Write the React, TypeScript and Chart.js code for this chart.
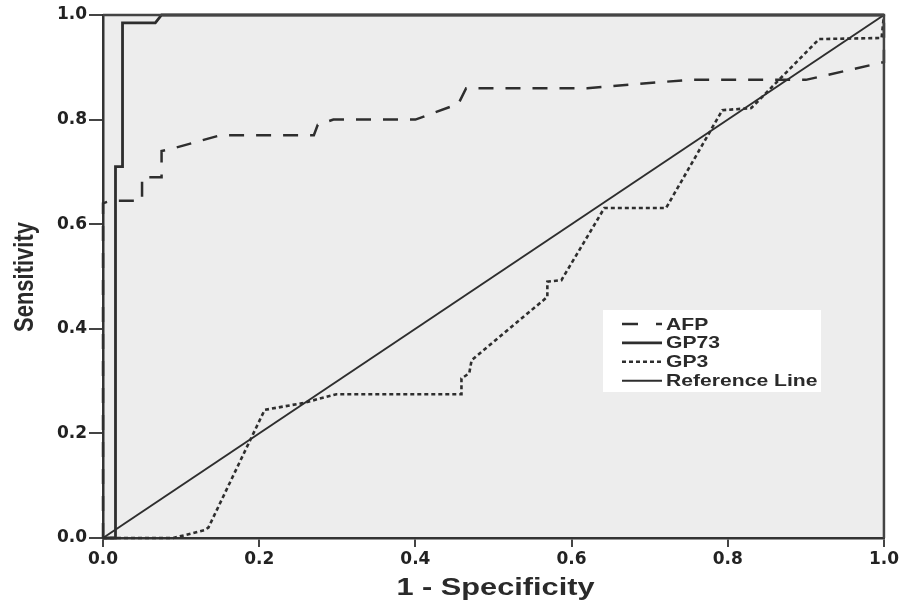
import React, { useEffect, useRef } from "react";
import { Chart, registerables } from "chart.js";

Chart.register(...registerables);

// ---- data ----
const xTickValues = [0, 0.2, 0.4, 0.6, 0.8, 1.0];
const yTickValues = [0, 0.2, 0.4, 0.6, 0.8, 1.0];

const seriesNames = ["AFP", "GP73", "GP3", "Reference Line"];

const afpX = [0, 0, 0.01, 0.05, 0.05, 0.075, 0.075, 0.09, 0.15, 0.27, 0.275, 0.295, 0.4, 0.455, 0.465, 0.62, 0.75, 0.9, 1.0, 1.0];
const afpY = [0, 0.64, 0.645, 0.645, 0.69, 0.69, 0.74, 0.745, 0.77, 0.77, 0.79, 0.8, 0.8, 0.83, 0.86, 0.86, 0.876, 0.876, 0.91, 1.0];

const gp73X = [0, 0.016, 0.016, 0.025, 0.025, 0.067, 0.075, 1.0];
const gp73Y = [0, 0, 0.71, 0.71, 0.985, 0.985, 1.0, 1.0];

const gp3X = [0, 0.09, 0.13, 0.135, 0.207, 0.256, 0.299, 0.459, 0.459, 0.469, 0.472, 0.569, 0.569, 0.587, 0.642, 0.721, 0.793, 0.83, 0.917, 0.997, 1.0];
const gp3Y = [0, 0, 0.015, 0.02, 0.245, 0.258, 0.275, 0.275, 0.305, 0.315, 0.34, 0.461, 0.49, 0.493, 0.631, 0.631, 0.818, 0.822, 0.954, 0.956, 1.0];

const refX = [0, 1];
const refY = [0, 1];

const xTitle = "1 - Specificity";
const yTitle = "Sensitivity";

// ---- styles ----
const LINE = "#2e2e2e";
const styles = [
  { width: 2.5, dash: [15, 12] },
  { width: 2.8, dash: [] as number[] },
  { width: 2.6, dash: [4, 3] },
  { width: 2, dash: [] as number[] },
];
const STRETCH = 1.28;
const FONT = "'Liberation Sans', Arial, sans-serif";

const toPts = (xs: number[], ys: number[]) => xs.map((x, i) => ({ x, y: ys[i] }));

function stretchedText(ctx: CanvasRenderingContext2D, text: string, x: number, y: number, font: string, align: CanvasTextAlign) {
  ctx.save();
  ctx.translate(x, y);
  ctx.scale(STRETCH, 1);
  ctx.font = font;
  ctx.fillStyle = "#2a2a2a";
  ctx.textAlign = align;
  ctx.textBaseline = "middle";
  ctx.fillText(text, 0, 0);
  ctx.restore();
}

const decorPlugin = {
  id: "decor",
  beforeDraw(chart: any) {
    const { ctx, chartArea: a, width, height } = chart;
    ctx.save();
    ctx.fillStyle = "#ffffff";
    ctx.fillRect(0, 0, width, height);
    ctx.fillStyle = "#ededed";
    ctx.fillRect(a.left, a.top, a.right - a.left, a.bottom - a.top);
    ctx.restore();
  },
  afterDatasetsDraw(chart: any) {
    const { ctx, chartArea: a } = chart;
    ctx.save();
    ctx.strokeStyle = "#444";
    ctx.lineWidth = 2.5;
    ctx.beginPath();
    ctx.moveTo(a.left, a.top);
    ctx.lineTo(a.right, a.top);
    ctx.lineTo(a.right, a.bottom);
    ctx.stroke();
    ctx.restore();
  },
  afterDraw(chart: any) {
    const { ctx, chartArea: a } = chart;
    // axis titles
    stretchedText(ctx, xTitle, (a.left + a.right) / 2 + 2, 588, `bold 24px ${FONT}`, "center");
    ctx.save();
    ctx.translate(25, 277);
    ctx.rotate(-Math.PI / 2);
    ctx.scale(1, STRETCH);
    ctx.font = `bold 22px ${FONT}`;
    ctx.fillStyle = "#2a2a2a";
    ctx.textAlign = "center";
    ctx.textBaseline = "middle";
    ctx.fillText(yTitle, 0, 0);
    ctx.restore();

    // legend
    const bx = 603, by = 310, bw = 218, bh = 82;
    ctx.save();
    ctx.fillStyle = "#ffffff";
    ctx.fillRect(bx, by, bw, bh);
    seriesNames.forEach((name, i) => {
      const y = 324 + i * 18.9;
      ctx.strokeStyle = LINE;
      ctx.lineWidth = styles[i].width;
      ctx.setLineDash(i === 0 ? [16, 18] : styles[i].dash);
      ctx.beginPath();
      ctx.moveTo(622, y);
      ctx.lineTo(662, y);
      ctx.stroke();
      ctx.setLineDash([]);
      stretchedText(ctx, name, 666, y + 1, `bold 16.5px ${FONT}`, "left");
    });
    ctx.restore();
  },
};

export default function App() {
  const ref = useRef<HTMLCanvasElement | null>(null);

  useEffect(() => {
    document.body.style.margin = "0";
    const canvas = ref.current!;
    const data = [toPts(afpX, afpY), toPts(gp73X, gp73Y), toPts(gp3X, gp3Y), toPts(refX, refY)];
    const chart = new Chart(canvas, {
      type: "line",
      data: {
        datasets: data.map((d, i) => ({
          label: seriesNames[i],
          data: d,
          borderColor: LINE,
          borderWidth: styles[i].width,
          borderDash: styles[i].dash,
          pointRadius: 0,
          tension: 0,
          fill: false,
          clip: 4,
        })),
      },
      options: {
        responsive: false,
        animation: false,
        parsing: true,
        layout: { padding: { top: 15, right: 16, left: 0, bottom: 0 } },
        plugins: { legend: { display: false }, tooltip: { enabled: false }, title: { display: false } },
        scales: {
          x: {
            type: "linear",
            min: 0,
            max: 1,
            afterBuildTicks: (s: any) => {
              s.ticks = xTickValues.map((v) => ({ value: v }));
            },
            afterFit: (s: any) => {
              s.height = 65;
            },
            ticks: {
              callback: (v: any) => Number(v).toFixed(1),
              font: { family: "'DejaVu Sans'", weight: "bold", size: 17 },
              color: "#222",
              padding: 2,
              maxRotation: 0,
              autoSkip: false,
            },
            grid: { drawOnChartArea: false, drawTicks: true, tickLength: 9, color: "#444", lineWidth: 2 },
            border: { display: true, color: "#333", width: 2.5 },
          },
          y: {
            type: "linear",
            min: 0,
            max: 1,
            afterBuildTicks: (s: any) => {
              s.ticks = yTickValues.map((v) => ({ value: v }));
            },
            afterFit: (s: any) => {
              s.width = 103;
            },
            ticks: {
              callback: (v: any) => Number(v).toFixed(1),
              font: { family: "'DejaVu Sans'", weight: "bold", size: 17 },
              color: "#222",
              padding: 2,
              autoSkip: false,
            },
            grid: { drawOnChartArea: false, drawTicks: true, tickLength: 14, color: "#444", lineWidth: 2 },
            border: { display: true, color: "#333", width: 2.5 },
          },
        },
      },
      plugins: [decorPlugin],
    });
    return () => chart.destroy();
  }, []);

  return (
    <div style={{ width: 901, height: 603, position: "relative", background: "#fff" }}>
      <canvas ref={ref} width={901} height={603} style={{ display: "block" }} />
    </div>
  );
}
